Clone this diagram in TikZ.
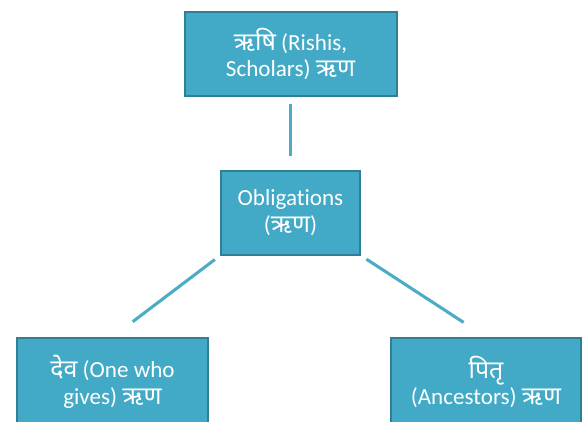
\documentclass[tikz,border=0pt]{standalone}
\usepackage{fontspec}
\setmainfont{Carlito}[Ligatures=NoCommon]
\newfontfamily\deva[Script=Devanagari, Scale=1.08]{Noto Sans}
\newcommand\dv[1]{{\deva #1}}
\definecolor{boxfill}{RGB}{66,170,198}
\definecolor{boxline}{RGB}{47,128,150}
\definecolor{linkblue}{RGB}{75,172,198}
\begin{document}
\begin{tikzpicture}[x=0.75pt, y=-0.75pt,
  font=\fontsize{17.3}{20}\selectfont,
  rina/.style={draw=boxline, line width=1.5pt, fill=boxfill, text=white,
    align=center, inner sep=0pt, minimum height=63pt},
  link/.style={linkblue, line width=2.3pt}]
  \useasboundingbox (0,0) rectangle (587,422);

  \node[rina, minimum width=159pt] (rishi) at (290.5,54) {\dv{ऋषि} (Rishis,\\Scholars) \dv{ऋण}};
  \node[rina, minimum width=104pt] (oblig) at (290.5,212.5) {Obligations\\(\dv{ऋण})};
  \node[rina, minimum width=143pt, minimum height=66pt] (deva) at (112.5,382) {\dv{देव} (One who\\gives) \dv{ऋण}};
  \node[rina, minimum width=143pt, minimum height=66pt] (pitr) at (486,382) {\dv{पितृ}\\(Ancestors) \dv{ऋण}};

  \draw[link, shorten <=5pt, shorten >=10pt] (rishi.south) -- (oblig.north);
  \draw[link, shorten <=5pt, shorten >=19pt] (oblig.south west) -- (deva.north);
  \draw[link, shorten <=5pt, shorten >=20pt] (oblig.south east) -- (pitr.north);
\end{tikzpicture}
\end{document}
